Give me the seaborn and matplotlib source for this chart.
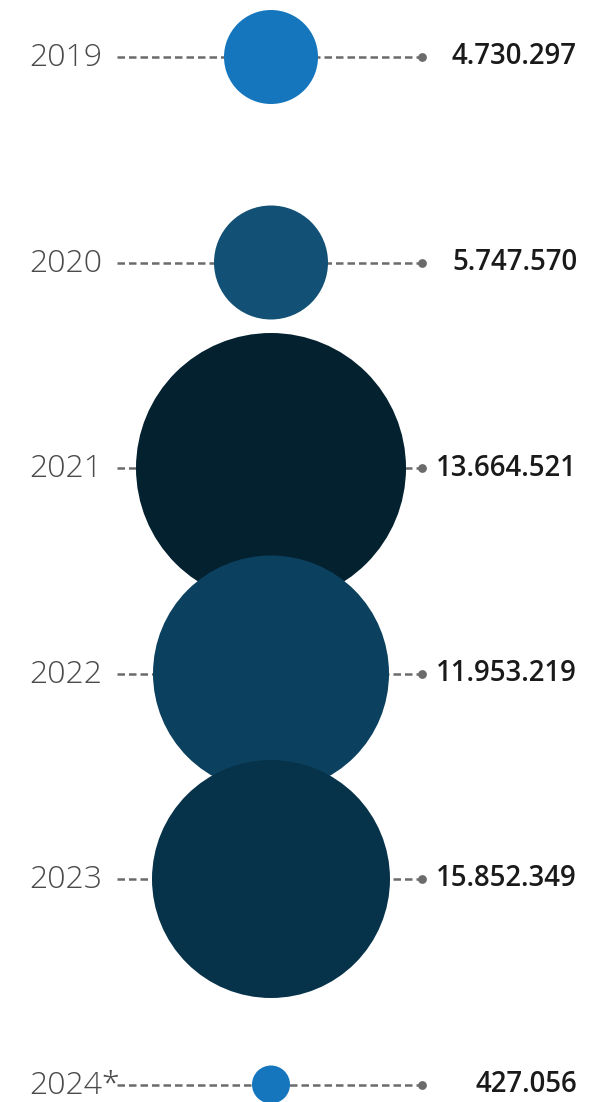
import matplotlib
matplotlib.use("Agg")
import matplotlib.pyplot as plt
import seaborn as sns
import pandas as pd

# data
years = ["2019", "2020", "2021", "2022", "2023", "2024*"]
values = [4730297, 5747570, 13664521, 11953219, 15852349, 427056]
bubble_diameter = [94, 114, 270, 236, 238, 38]  # bubble size as drawn (px)
bubble_colors = ["#1576bd", "#125175", "#04212f", "#0b405f", "#07334a", "#1576bd"]


def fmt_dots(v):
    return f"{v:,}".replace(",", ".")


DPI = 100
W, H = 596, 1102
STEP = 205.5
Y0 = 57

df = pd.DataFrame({
    "year": years,
    "value": values,
    "pos": range(len(years)),
    "x": [271] * len(years),
    "diam": bubble_diameter,
})

sns.set_theme(style="white")
plt.rcParams["font.family"] = ["Open Sans", "DejaVu Sans"]

fig = plt.figure(figsize=(W / DPI, H / DPI), dpi=DPI)
ax = fig.add_axes([0, 0, 1, 1])
ax.set_xlim(0, W)
ax.set_ylim((H - Y0) / STEP, -Y0 / STEP)
ax.axis("off")

# dashed guide lines with end dot
for i in df["pos"]:
    ax.plot([117, 420], [i, i], color="#6b6b6b", lw=1.8,
            dashes=(3, 1.6), zorder=1, solid_capstyle="butt")
ax.scatter([422] * len(df), df["pos"], s=40, color="#6b6b6b", zorder=1,
           linewidths=0)

# bubbles: scatter size in points^2 from pixel diameter
sizes = [(d * 72 / DPI) ** 2 for d in df["diam"]]
sns.scatterplot(data=df, x="x", y="pos", hue="year",
                palette=dict(zip(years, bubble_colors)),
                s=sizes, linewidth=0, legend=False, ax=ax, zorder=2)

for i, row in df.iterrows():
    ax.text(29, row["pos"] + 0.005, row["year"], ha="left", va="center",
            fontsize=23, fontweight="light", color="#4a4a4a")
    ax.text(577, row["pos"], fmt_dots(row["value"]), ha="right", va="center",
            fontsize=19.8, fontweight="semibold", color="#1a1a1a")

ax.set_xlabel("")
ax.set_ylabel("")
fig.savefig("out.png", dpi=DPI)
